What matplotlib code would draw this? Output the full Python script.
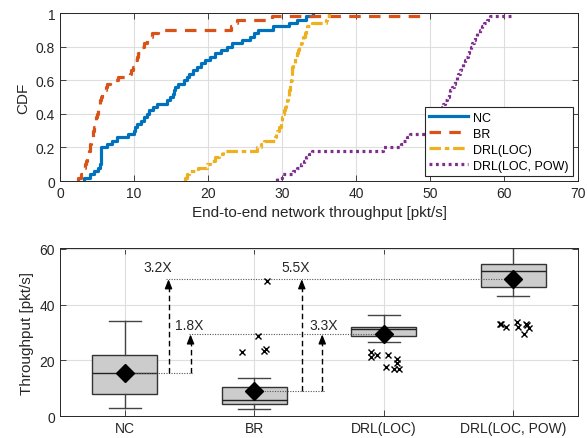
import numpy as np
import matplotlib
matplotlib.use("Agg")
import matplotlib.pyplot as plt

plt.rcParams['font.family'] = ['Liberation Sans', 'DejaVu Sans']

# ---------------- data ----------------
series_names = ["NC", "BR", "DRL(LOC)", "DRL(LOC, POW)"]

nc_samples = [3.2, 4.0, 4.6, 5.2, 5.4, 5.5, 5.5, 5.5, 5.6, 5.6,
              6.3, 7.0, 7.7, 9.2, 10.0, 10.2, 10.4, 10.9, 11.3, 11.7,
              12.0, 12.6, 13.1, 14.4, 14.9, 15.3, 15.4, 15.5, 16.0, 16.7,
              17.1, 17.5, 18.0, 18.5, 19.1, 19.6, 20.3, 21.0, 21.8, 22.5,
              23.2, 24.6, 25.7, 26.2, 26.8, 28.8, 31.0, 32.0, 33.2, 34.2]
br_samples = [2.4, 2.8, 3.1, 3.3, 3.4, 3.5, 3.6, 3.7, 3.9, 4.0,
              4.1, 4.2, 4.3, 4.4, 4.5, 4.6, 4.7, 4.7, 4.9, 5.0,
              5.1, 5.2, 5.3, 5.4, 5.5, 5.7, 5.9, 6.2, 6.4, 6.8,
              7.8, 9.5, 9.6, 9.8, 10.0, 10.2, 10.4, 10.6, 10.8, 11.0,
              11.3, 11.7, 12.0, 12.4, 13.2, 23.1, 23.4, 23.9, 28.7, 48.6]
loc_samples = [16.9, 17.1, 17.5, 18.6, 19.8, 20.3, 20.9, 21.5, 22.0, 26.6,
               27.2, 27.6, 29.1, 29.2, 29.3, 29.6, 29.8, 29.9, 30.0, 30.1,
               30.3, 30.4, 30.6, 30.7, 30.8, 30.9, 31.0, 31.1, 31.1, 31.2,
               31.3, 31.3, 31.4, 31.4, 31.5, 31.7, 31.8, 32.0, 32.1, 32.3,
               32.5, 32.7, 32.9, 33.1, 33.3, 33.4, 34.0, 35.9, 36.1, 36.3]
pow_samples = [29.3, 30.0, 31.5, 32.0, 32.5, 33.0, 33.3, 33.6, 34.0, 43.6,
               46.1, 46.4, 46.9, 47.3, 49.3, 49.8, 50.1, 50.4, 50.7, 51.0,
               51.3, 51.6, 51.8, 52.0, 52.3, 52.5, 52.7, 53.0, 53.2, 53.4,
               53.6, 53.8, 54.0, 54.2, 54.4, 54.7, 54.9, 55.1, 55.3, 55.5,
               55.7, 55.9, 56.1, 56.4, 56.7, 57.0, 57.3, 57.7, 58.1, 61.0]

# box statistics per category
box_whislo = [2.8, 2.4, 26.5, 43.0]
box_q1 = [7.9, 4.4, 28.8, 46.4]
box_med = [15.3, 5.6, 31.1, 51.9]
box_q3 = [21.8, 10.5, 31.8, 54.4]
box_whishi = [34.2, 13.8, 36.1, 60.5]
box_mean = [15.6, 8.8, 29.3, 49.1]

# outliers: values and horizontal jitter
br_out = [23.1, 23.9, 23.4, 28.7, 48.4]
br_jit = [-0.095, 0.09, 0.077, 0.03, 0.10]
loc_out = [23.1, 21.2, 21.9, 21.8, 17.6, 20.3, 19.1, 17.0, 17.0]
loc_jit = [-0.095, -0.095, -0.05, 0.033, 0.015, 0.10, 0.10, 0.077, 0.118]
pow_out = [32.9, 32.0, 33.8, 32.0, 32.9, 31.7, 29.3, 33.0, 32.5]
pow_jit = [-0.095, -0.056, 0.028, 0.04, 0.098, 0.118, 0.08, -0.105, 0.105]

ratio_labels = ["3.2X", "1.8X", "5.5X", "3.3X"]

# ---------------- style ----------------
colors = ["#0072BD", "#D95319", "#EDB120", "#7E2F8E"]
axcol = "#262626"
gridcol = "#DEDEDE"
fs_tick = 10
fs_label = 11
fs_leg = 9

fig = plt.figure(figsize=(5.87, 4.39), dpi=100)
ax1 = fig.add_axes([0.1022, 0.5854, 0.8825, 0.3826])
ax2 = fig.add_axes([0.1022, 0.0501, 0.8825, 0.3827])


def style(ax):
    for s in ax.spines.values():
        s.set_color(axcol)
        s.set_linewidth(0.7)
    ax.tick_params(direction='in', length=4, width=0.6, colors=axcol,
                   labelsize=fs_tick, top=True, right=True, labelcolor=axcol)
    ax.set_axisbelow(True)
    ax.grid(True, color=gridcol, lw=0.8)


# ---------------- CDF ----------------
samples = [nc_samples, br_samples, loc_samples, pow_samples]
styles = [dict(ls='-'), dict(dashes=(3.6, 2.6)), dict(dashes=(3.6, 1.2, 1.4, 1.2)),
          dict(dashes=(0.9, 1.1))]
for s, c, st, name in zip(samples, colors, styles, series_names):
    s = np.sort(np.asarray(s, dtype=float))
    n = len(s)
    xs = np.concatenate([[s[0]], s])
    ys = np.concatenate([[0.0], np.arange(1, n + 1) / n])
    ax1.step(xs, ys, where='post', color=c, lw=2.3, label=name, **st)

ax1.set_xlim(0, 70)
ax1.set_ylim(0, 1)
ax1.set_xticks(np.arange(0, 71, 10))
ax1.set_yticks([0, 0.2, 0.4, 0.6, 0.8, 1.0])
ax1.set_yticklabels(["0", "0.2", "0.4", "0.6", "0.8", "1"])
style(ax1)
ax1.set_xlabel("End-to-end network throughput [pkt/s]", fontsize=fs_label, color=axcol, labelpad=4)
ax1.set_ylabel("CDF", fontsize=fs_label, color=axcol, labelpad=4)
leg = ax1.legend(loc='lower right', fontsize=fs_leg, handlelength=3.1, handletextpad=0.4,
                 borderaxespad=0.4, borderpad=0.35, labelspacing=0.32, fancybox=False,
                 framealpha=1, edgecolor=axcol)
leg.get_frame().set_linewidth(0.8)

# ---------------- box plot ----------------
positions = [1, 2, 3, 4]
stats = []
for i in range(4):
    stats.append(dict(whislo=box_whislo[i], q1=box_q1[i], med=box_med[i], q3=box_q3[i],
                      whishi=box_whishi[i], mean=box_mean[i], fliers=[]))
ax2.bxp(stats, positions=positions, widths=0.5, patch_artist=True, showmeans=False,
        showfliers=False,
        boxprops=dict(facecolor="#CCCCCC", edgecolor="#333333", lw=1.0),
        medianprops=dict(color="#222222", lw=1.0),
        whiskerprops=dict(color="#444444", lw=1.0),
        capprops=dict(color="#444444", lw=1.0), capwidths=0.25, zorder=2)

for pos, vals, jit in zip([2, 3, 4], [br_out, loc_out, pow_out], [br_jit, loc_jit, pow_jit]):
    ax2.plot(np.array(jit) + pos, vals, ls='none', marker='x', color='k', ms=4.5, mew=1.0, zorder=3)

# dotted reference lines
dot = dict(ls=(0, (1, 1.3)), color='#555555', lw=0.8, zorder=2.5)
ax2.plot([1, 1.52], [box_mean[0]] * 2, **dot)
ax2.plot([2, 2.55], [box_mean[1]] * 2, **dot)
ax2.plot([1.32, 4], [box_mean[3]] * 2, **dot)
ax2.plot([1.5, 3], [box_mean[2]] * 2, **dot)

# means
ax2.plot(positions, box_mean, ls='none', marker='D', color='k', ms=9, zorder=4)

# arrows
arrows = [(1.338, box_mean[0], box_mean[3]), (1.508, box_mean[0], box_mean[2]),
          (2.367, box_mean[1], box_mean[3]), (2.525, box_mean[1], box_mean[2])]
for x, y0, y1 in arrows:
    ax2.plot([x, x], [y0, y1 - 2.0], ls=(0, (4, 2.5)), color='k', lw=1.0, zorder=3)
    ax2.annotate('', xy=(x, y1), xytext=(x, y1 - 3.0),
                 arrowprops=dict(arrowstyle='-|>,head_length=0.55,head_width=0.22',
                                 color='k', lw=1.0, shrinkA=0, shrinkB=0), zorder=3)

text_pos = [(1.258, 53.6), (1.496, 32.6), (2.32, 53.6), (2.538, 32.5)]
for (tx, ty), lab in zip(text_pos, ratio_labels):
    ax2.text(tx, ty, lab, ha='center', va='center', fontsize=fs_tick, color=axcol)

ax2.set_xlim(0.5, 4.5)
ax2.set_ylim(0, 60.3)
ax2.set_xticks(positions)
ax2.set_xticklabels(series_names)
ax2.set_yticks([0, 20, 40, 60])
style(ax2)
ax2.set_ylabel("Throughput [pkt/s]", fontsize=fs_label, color=axcol, labelpad=4)

fig.savefig("out.png", dpi=100)
